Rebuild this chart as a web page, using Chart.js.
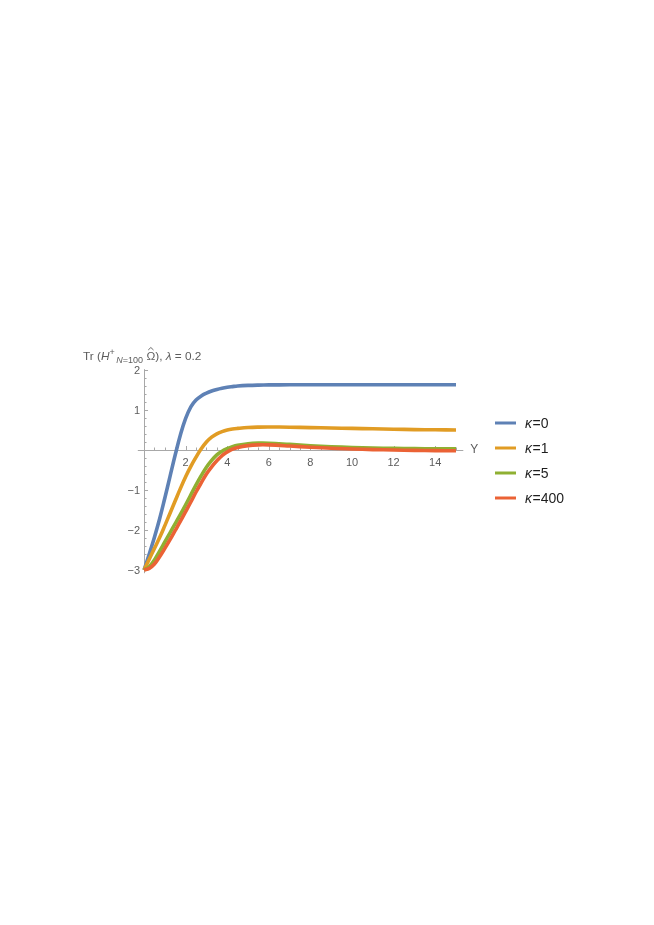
<!DOCTYPE html>
<html>
<head>
<meta charset="utf-8">
<script src="https://cdn.jsdelivr.net/npm/chart.js@4/dist/chart.umd.min.js"></script>
<style>
  html, body { margin: 0; background: #fff; }
  #wrap { position: relative; width: 654px; height: 925px; }
</style>
</head>
<body>
<div id="wrap"><canvas id="traceChart" width="654" height="925"></canvas></div>
<script>
/* ---------- data ---------- */
const yGrid = [0, 0.25, 0.5, 0.75, 1, 1.25, 1.5, 1.75, 2, 2.25, 2.5, 2.75, 3,
               3.25, 3.5, 3.75, 4, 4.25, 4.5, 5, 5.5, 6, 7, 8, 9, 10, 11, 12, 13, 14, 15];

const kappa0   = [-3, -2.6, -2.18, -1.72, -1.2, -0.66, -0.12, 0.38, 0.79, 1.08, 1.25, 1.35, 1.42,
                  1.475, 1.515, 1.545, 1.568, 1.585, 1.6, 1.615, 1.623, 1.627, 1.63, 1.63, 1.63, 1.63, 1.63, 1.63, 1.63, 1.63, 1.63];
const kappa1   = [-3, -2.73, -2.46, -2.19, -1.89, -1.58, -1.27, -0.96, -0.67, -0.41, -0.18, 0.03, 0.2,
                  0.32, 0.405, 0.46, 0.5, 0.525, 0.54, 0.562, 0.572, 0.575, 0.57, 0.56, 0.55, 0.54, 0.53, 0.52, 0.51, 0.505, 0.5];
const kappa5   = [-3, -2.92, -2.75, -2.53, -2.3, -2.07, -1.84, -1.61, -1.37, -1.12, -0.87, -0.64, -0.43,
                  -0.26, -0.12, -0.03, 0.035, 0.085, 0.12, 0.158, 0.172, 0.17, 0.14, 0.108, 0.082, 0.062, 0.05, 0.04, 0.035, 0.03, 0.03];
const kappa400 = [-3, -2.96, -2.85, -2.67, -2.46, -2.24, -2.01, -1.78, -1.54, -1.3, -1.05, -0.82, -0.6,
                  -0.42, -0.27, -0.14, -0.05, 0.02, 0.065, 0.11, 0.128, 0.127, 0.1, 0.068, 0.042, 0.025, 0.01, 0.0, -0.01, -0.015, -0.02];

const seriesKappa  = ['0', '1', '5', '400'];
const seriesColors = ['#5e81b5', '#e19c24', '#8fb032', '#eb6235'];

const xTicks = [2, 4, 6, 8, 10, 12, 14];
const yTicks = [-3, -2, -1, 1, 2];

/* ---------- helpers ---------- */
const FONT = '"Liberation Sans", Arial, sans-serif';
const AXIS_GRAY = '#a8a8a8';
const LABEL_GRAY = '#5c5c5c';

// axes through the origin, tick marks, tick labels, axis name
const axisDecor = {
    id: 'axisDecor',
    beforeDatasetsDraw(chart) {
        const { ctx, chartArea, scales: { x, y } } = chart;
        const x0 = x.getPixelForValue(0);
        const y0 = y.getPixelForValue(0);
        ctx.save();
        ctx.strokeStyle = AXIS_GRAY;
        ctx.lineWidth = 1;

        // axis lines
        ctx.beginPath();
        ctx.moveTo(chartArea.left, Math.round(y0) + 0.5);
        ctx.lineTo(chartArea.right, Math.round(y0) + 0.5);
        ctx.moveTo(Math.round(x0) + 0.5, chartArea.top);
        ctx.lineTo(Math.round(x0) + 0.5, chartArea.bottom);
        ctx.stroke();

        // x ticks (major every 2, minor every 0.5), pointing up
        ctx.beginPath();
        for (let i = 1; i <= 30; i++) {
            const v = i * 0.5;
            const len = (i % 4 === 0) ? 4 : 2.5;
            const px = Math.round(x.getPixelForValue(v)) + 0.5;
            ctx.moveTo(px, y0);
            ctx.lineTo(px, y0 - len);
        }
        // y ticks (major every 1, minor every 0.2), pointing right
        for (let i = -15; i <= 10; i++) {
            if (i === 0) continue;
            const v = i * 0.2;
            const len = (i % 5 === 0) ? 4 : 2.5;
            const py = Math.round(y.getPixelForValue(v)) + 0.5;
            ctx.moveTo(x0, py);
            ctx.lineTo(x0 + len, py);
        }
        ctx.stroke();

        // tick labels
        ctx.fillStyle = LABEL_GRAY;
        ctx.font = '11px ' + FONT;
        ctx.textAlign = 'center';
        ctx.textBaseline = 'middle';
        xTicks.forEach(v => ctx.fillText(String(v), x.getPixelForValue(v), y0 + 13));
        ctx.textAlign = 'right';
        yTicks.forEach(v => ctx.fillText(String(v).replace('-', '\u2212'), x0 - 4, y.getPixelForValue(v) + 0.5));

        // axis name
        ctx.font = '12px ' + FONT;
        ctx.textAlign = 'left';
        ctx.fillText('Y', chartArea.right + 7, y0 - 0.5);
        ctx.restore();
    }
};

// title above the y axis, with super/subscripts and hat
const titleDecor = {
    id: 'titleDecor',
    afterDraw(chart) {
        const { ctx } = chart;
        ctx.save();
        ctx.fillStyle = LABEL_GRAY;
        ctx.textAlign = 'left';
        ctx.textBaseline = 'alphabetic';
        let cx = 83;
        const base = 360;
        const put = (txt, font, dy) => {
            ctx.font = font;
            ctx.fillText(txt, cx, base + dy);
            const w = ctx.measureText(txt).width;
            cx += w;
            return w;
        };
        put('Tr (', '11.8px ' + FONT, 0);
        put('H', 'italic 11.8px ' + FONT, 0);
        put('+', '9px ' + FONT, -5);
        cx += 1.5;
        put('N', 'italic 9px ' + FONT, 3);
        put('=100', '9px ' + FONT, 3);
        cx += 3.5;
        const omegaX = cx;
        const ow = put('\u03A9', '11.8px ' + FONT, 0);
        // hat over Omega
        ctx.strokeStyle = LABEL_GRAY;
        ctx.lineWidth = 0.9;
        ctx.beginPath();
        ctx.moveTo(omegaX + ow * 0.2, base - 10);
        ctx.lineTo(omegaX + ow * 0.5, base - 12.5);
        ctx.lineTo(omegaX + ow * 0.8, base - 10);
        ctx.stroke();
        put('), ', '11.8px ' + FONT, 0);
        put('\u03BB', 'italic 11.8px ' + FONT, 0);
        put(' = 0.2', '11.8px ' + FONT, 0);
        ctx.restore();
    }
};

// legend on the right
const legendDecor = {
    id: 'legendDecor',
    afterDraw(chart) {
        const { ctx } = chart;
        ctx.save();
        ctx.textBaseline = 'middle';
        ctx.textAlign = 'left';
        seriesKappa.forEach((k, i) => {
            const ly = 423 + i * 25;
            ctx.strokeStyle = seriesColors[i];
            ctx.lineWidth = 3;
            ctx.beginPath();
            ctx.moveTo(495, ly);
            ctx.lineTo(516, ly);
            ctx.stroke();
            ctx.fillStyle = '#1e1e1e';
            ctx.font = 'italic 14px ' + FONT;
            ctx.fillText('\u03BA', 525, ly + 1);
            const kw = ctx.measureText('\u03BA').width;
            ctx.font = '14px ' + FONT;
            ctx.fillText('=' + k, 525 + kw + 0.5, ly + 1);
        });
        ctx.restore();
    }
};

/* ---------- chart ---------- */
const allSeries = [kappa0, kappa1, kappa5, kappa400];

new Chart(document.getElementById('traceChart').getContext('2d'), {
    type: 'line',
    data: {
        datasets: allSeries.map((vals, i) => ({
            label: '\u03BA=' + seriesKappa[i],
            data: yGrid.map((g, j) => ({ x: g, y: vals[j] })),
            borderColor: seriesColors[i],
            borderWidth: 3.6,
            pointRadius: 0,
            tension: 0.4,
            fill: false,
            order: allSeries.length - i
        }))
    },
    options: {
        responsive: false,
        animation: false,
        events: [],
        layout: { padding: { left: 137.8, right: 190.7, top: 369.2, bottom: 351.8 } },
        plugins: { legend: { display: false }, tooltip: { enabled: false } },
        scales: {
            x: {
                type: 'linear',
                min: -0.3,
                max: 15.35,
                position: { y: 0 },
                grid: { display: false, drawTicks: false },
                border: { display: false },
                ticks: { display: false }
            },
            y: {
                type: 'linear',
                min: -3.08,
                max: 2.02,
                position: { x: 0 },
                grid: { display: false, drawTicks: false },
                border: { display: false },
                ticks: { display: false }
            }
        }
    },
    plugins: [axisDecor, titleDecor, legendDecor]
});
</script>
</body>
</html>
